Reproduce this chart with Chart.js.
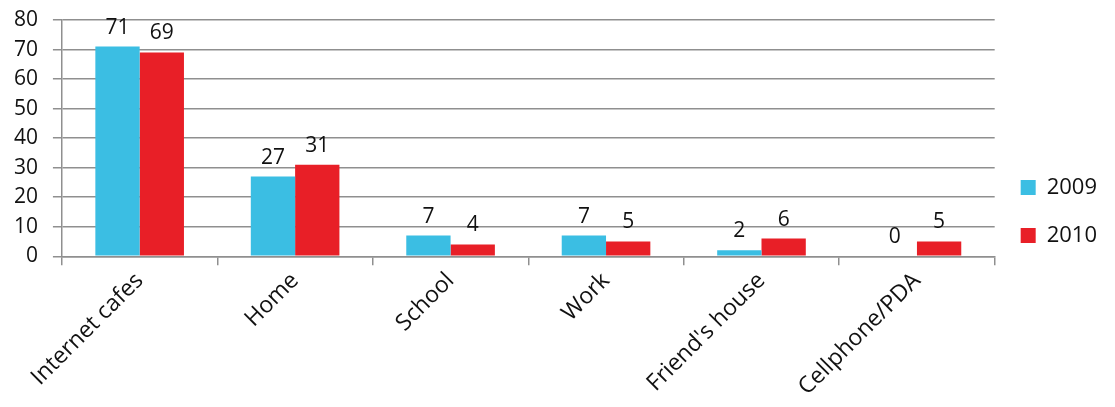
<!DOCTYPE html>
<html>
<head>
<meta charset="utf-8">
<script src="https://cdn.jsdelivr.net/npm/chart.js@4"></script>
<style>
  html, body { margin: 0; padding: 0; background: #fff; }
  #wrap { width: 1115px; height: 407px; }
</style>
</head>
<body>
<div id="wrap"><canvas id="accessChart"></canvas></div>
<script>
// where people get online, by year
const places = ['Internet cafes', 'Home', 'School', 'Work', "Friend's house", 'Cellphone/PDA'];
const values2009 = [71, 27, 7, 7, 2, 0];
const values2010 = [69, 31, 4, 5, 6, 5];
const yTicks = [0, 10, 20, 30, 40, 50, 60, 70, 80];

const FONT = "'Open Sans', 'Liberation Sans', sans-serif";
const gridGrey = '#8f8f8f';

// value printed above every bar
const barValues = {
  id: 'barValues',
  afterDatasetsDraw(chart) {
    const ctx = chart.ctx;
    ctx.save();
    ctx.font = '21px ' + FONT;
    ctx.fillStyle = '#111';
    ctx.textAlign = 'center';
    ctx.textBaseline = 'alphabetic';
    chart.data.datasets.forEach((ds, i) => {
      chart.getDatasetMeta(i).data.forEach((bar, j) => {
        ctx.fillText(String(ds.data[j]), bar.x, bar.y - 13);
      });
    });
    ctx.restore();
  }
};

const ctx = document.getElementById('accessChart').getContext('2d');
new Chart(ctx, {
  type: 'bar',
  data: {
    labels: places,
    datasets: [{
      label: '2009',
      data: values2009,
      backgroundColor: '#3bbee3'
    }, {
      label: '2010',
      data: values2010,
      backgroundColor: '#e81f27'
    }]
  },
  options: {
    responsive: true,
    maintainAspectRatio: false,
    animation: false,
    layout: { padding: { left: 10, top: 20, right: 8, bottom: 4 } },
    datasets: {
      bar: { categoryPercentage: 0.57, barPercentage: 1.0 }
    },
    scales: {
      x: {
        grid: {
          display: true,
          drawOnChartArea: false,
          drawTicks: true,
          tickLength: 9,
          color: gridGrey,
          lineWidth: 1.5
        },
        border: { color: gridGrey, width: 1.5 },
        ticks: {
          font: { family: FONT, size: 23 },
          color: '#111',
          minRotation: 45,
          maxRotation: 45,
          padding: 2
        }
      },
      y: {
        min: 0,
        max: 80,
        afterBuildTicks(axis) {
          axis.ticks = yTicks.map(v => ({ value: v }));
        },
        grid: {
          color: gridGrey,
          lineWidth: 1.5,
          tickLength: 9
        },
        border: { color: gridGrey, width: 1.5 },
        ticks: {
          font: { family: FONT, size: 21 },
          color: '#111',
          padding: 4,
          // trailing spaces keep the numbers clear of the tick marks
          callback: v => v + '  '
        }
      }
    },
    plugins: {
      legend: {
        position: 'right',
        labels: {
          font: { family: FONT, size: 22 },
          color: '#111',
          boxWidth: 15,
          boxHeight: 15,
          padding: 26
        }
      },
      tooltip: { enabled: false }
    }
  },
  plugins: [barValues]
});
</script>
</body>
</html>
